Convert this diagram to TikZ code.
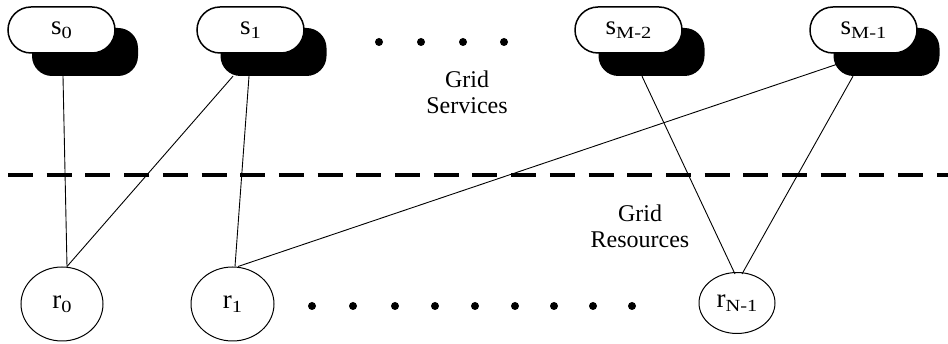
\documentclass[tikz,border=0pt]{standalone}
\usepackage{fontspec}
\setmainfont{Liberation Serif}
\usetikzlibrary{calc,shapes.geometric}
\newcommand{\sbx}[1]{\raisebox{-4pt}{\scalebox{1.2}[1]{\fontsize{17}{19}\selectfont #1}}}
\tikzset{
  svc/.style={draw, line width=1.5pt, fill=white, rounded corners=23pt, minimum width=107pt, minimum height=46pt, inner sep=0pt, font=\fontsize{27}{30}\selectfont},
  shad/.style={fill=black, rounded corners=20pt, minimum width=106pt, minimum height=48pt, inner sep=0pt},
  res/.style={draw, ellipse, line width=1pt, inner sep=0pt, font=\fontsize{27}{30}\selectfont},
  conn/.style={line width=0.9pt},
  dotnode/.style={circle, fill=black, minimum size=8pt, inner sep=0pt},
  area/.style={align=center, font=\fontsize{24}{26}\selectfont},
  sep/.style={line width=3.5pt, dash pattern=on 25pt off 13.7pt},
}
\begin{document}
\begin{tikzpicture}[x=1pt, y=-1pt]
\useasboundingbox (0,0) rectangle (948,344);
% shadows
\node[shad] (sh0) at (85,52) {};
\node[shad] (sh1) at (273.5,52) {};
\node[shad] (shM2) at (651.5,52) {};
\node[shad] (shM1) at (886.5,52) {};
% services
\node[svc] (s0) at (61.5,30) {s\sbx{0}};
\node[svc] (s1) at (250.5,30) {s\sbx{1}};
\node[svc] (sM2) at (628.5,30) {s\sbx{M-2}};
\node[svc] (sM1) at (863.5,30) {s\sbx{M-1}};
% resources
\node[res, minimum width=82pt, minimum height=74pt] (r0) at (62,304) {r\sbx{0}};
\node[res, minimum width=83pt, minimum height=74pt] (r1) at (232.5,304) {r\sbx{1}};
\node[res, minimum width=76pt, minimum height=61pt] (rN1) at (737,303) {r\sbx{N-1}};
% dots top
\foreach \x [count=\i] in {379,421,463,504} \node[dotnode] (td\i) at (\x,42) {};
% dots bottom
\foreach \x [count=\i] in {312,353,395,435,475,515,554,593,632} \node[dotnode] (bd\i) at (\x,306) {};
% separator
\coordinate (sepL) at (8,175);
\coordinate (sepR) at (948,175);
\draw[sep] (sepL) -- (sepR);
% labels
\node[area] (gs) at (467,92) {Grid\\Services};
\node[area] (gr) at (640,226) {Grid\\Resources};
% connectors
\draw[conn] ($(sh0.south)+(-22,0)$) -- ($(r0.north)+(5,0)$);
\draw[conn] ($(sh1.south)+(-40.5,0)$) -- ($(r0.north)+(5,0)$);
\draw[conn] ($(sh1.south)+(-24.5,0)$) -- ($(r1.north)+(2.5,0)$);
\draw[conn] ($(shM1.west)+(4.5,12)$) -- ($(r1.north)+(5.5,0)$);
\draw[conn] ($(shM2.south)+(-9.5,0)$) -- ($(rN1.north)+(-2,2)$);
\draw[conn] ($(shM1.south)+(-33.5,0)$) -- ($(rN1.north)+(5,2)$);
\end{tikzpicture}
\end{document}
